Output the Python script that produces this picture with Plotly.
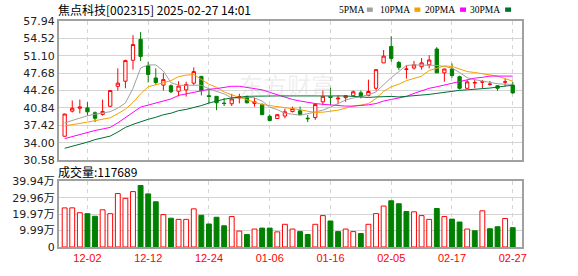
import plotly.graph_objects as go

# ---------------- data ----------------
dates = [
    "2024-11-27", "2024-11-28", "2024-11-29",
    "2024-12-02", "2024-12-03", "2024-12-04", "2024-12-05", "2024-12-06",
    "2024-12-09", "2024-12-10", "2024-12-11", "2024-12-12", "2024-12-13",
    "2024-12-16", "2024-12-17", "2024-12-18", "2024-12-19", "2024-12-20",
    "2024-12-23", "2024-12-24", "2024-12-25", "2024-12-26", "2024-12-27",
    "2024-12-30", "2024-12-31",
    "2025-01-02", "2025-01-03", "2025-01-06", "2025-01-07", "2025-01-08",
    "2025-01-09", "2025-01-10", "2025-01-13", "2025-01-14", "2025-01-15",
    "2025-01-16", "2025-01-17", "2025-01-20", "2025-01-21", "2025-01-22",
    "2025-01-23", "2025-01-24", "2025-01-27",
    "2025-02-05", "2025-02-06", "2025-02-07", "2025-02-10", "2025-02-11",
    "2025-02-12", "2025-02-13", "2025-02-14", "2025-02-17", "2025-02-18",
    "2025-02-19", "2025-02-20", "2025-02-21", "2025-02-24", "2025-02-25",
    "2025-02-26", "2025-02-27",
]

opens = [35.27, 40.21, 40.78, 40.84, 39.89, 39.57, 41.16, 45.08, 46.10, 50.21,
         54.33, 49.13, 46.73, 45.33, 45.21, 44.13, 44.39, 45.71, 47.05, 43.24,
         43.12, 41.79, 41.66, 42.80, 43.12, 41.73, 41.53, 39.19, 38.75, 39.25,
         40.14, 40.27, 38.81, 38.94, 42.04, 43.12, 42.62, 42.86, 43.24, 43.81,
         43.31, 44.70, 49.70, 52.93, 49.77, 48.40, 48.69, 48.94, 49.32, 52.43,
         47.74, 48.50, 46.98, 44.70, 45.75, 45.90, 45.45, 45.20, 45.90, 45.33]
highs = [39.70, 42.30, 42.49, 41.98, 40.14, 42.49, 44.30, 48.63, 50.34, 55.15,
         55.78, 49.89, 48.63, 47.68, 45.46, 46.10, 46.00, 48.82, 47.10, 44.39,
         43.15, 42.80, 43.62, 43.62, 43.24, 42.86, 41.73, 39.57, 39.60, 40.71,
         41.09, 41.09, 39.44, 41.73, 44.26, 44.83, 43.31, 43.30, 44.26, 44.26,
         46.41, 48.37, 52.24, 54.96, 50.08, 49.26, 50.08, 50.65, 51.22, 52.80,
         48.56, 49.60, 47.20, 46.35, 46.50, 46.35, 46.16, 45.30, 46.60, 45.97]
lows = [35.20, 39.95, 39.76, 39.32, 38.05, 39.32, 41.00, 44.26, 44.70, 48.37,
        50.08, 45.84, 45.40, 44.26, 43.75, 43.12, 43.06, 45.33, 43.31, 41.73,
        40.40, 41.22, 41.22, 41.73, 41.73, 41.09, 39.44, 38.18, 38.70, 38.81,
        39.95, 39.44, 38.05, 38.49, 41.34, 41.34, 41.53, 42.04, 43.12, 42.73,
        43.12, 44.26, 49.70, 49.95, 48.31, 46.60, 48.37, 48.37, 48.63, 47.74,
        46.00, 46.80, 44.45, 44.56, 44.70, 44.70, 45.20, 44.20, 45.10, 43.60]
closes = [39.64, 40.78, 41.03, 40.08, 38.81, 40.14, 44.26, 45.71, 50.15, 53.31,
          50.97, 47.43, 45.84, 46.41, 44.01, 45.14, 45.46, 47.99, 44.26, 43.10,
          41.85, 41.70, 42.61, 43.05, 41.85, 42.04, 39.51, 38.37, 39.51, 40.08,
          40.71, 39.51, 38.72, 41.53, 43.12, 42.90, 42.75, 43.24, 44.01, 43.12,
          44.07, 48.37, 51.03, 50.58, 48.82, 48.50, 49.32, 49.70, 50.27, 47.74,
          48.50, 47.22, 44.70, 45.97, 45.82, 45.97, 45.52, 44.70, 45.97, 43.80]

# volume in 万
volumes = [23.77, 23.80, 20.85, 20.26, 18.70, 22.60, 20.26, 32.50, 29.60, 33.70,
           37.40, 32.30, 27.50, 19.70, 17.50, 16.80, 16.80, 23.20, 19.30, 14.00,
           18.10, 12.90, 18.50, 9.70, 7.60, 10.90, 11.50, 11.50, 9.20, 13.80,
           10.90, 9.35, 7.60, 13.80, 19.10, 15.80, 9.35, 10.90, 9.35, 8.20,
           13.80, 20.30, 24.90, 28.10, 26.30, 21.60, 21.40, 19.10, 16.80, 23.40,
           18.50, 16.95, 15.20, 10.90, 9.90, 22.00, 11.10, 12.30, 17.30, 11.77]

ma5 = [37.9, 38.4, 38.9, 39.3, 39.6, 39.8, 40.1, 40.8, 41.8, 44.7,
       48.7, 49.3, 49.3, 48.1, 45.8, 45.3, 45.3, 45.4, 45.3, 44.6,
       44.1, 43.6, 42.8, 42.8, 43.0, 42.8, 42.2, 41.0, 40.5, 39.8,
       39.6, 39.4, 39.7, 40.0, 40.4, 41.0, 41.7, 42.4, 42.8, 43.1,
       43.4, 44.0, 45.5, 46.8, 48.0, 49.2, 49.3, 49.3, 49.3, 49.2,
       49.0, 48.7, 47.8, 46.8, 46.4, 46.1, 45.8, 45.6, 45.5, 45.5]
ma10 = [37.3, 37.6, 37.8, 38.05, 38.3, 38.6, 38.9, 39.7, 40.6, 41.9,
        43.6, 45.0, 45.4, 45.8, 46.2, 47.0, 47.3, 47.4, 46.5, 45.5,
        44.9, 44.0, 43.4, 42.9, 42.5, 42.0, 41.5, 41.3, 41.1, 41.0,
        40.8, 40.5, 40.2, 39.95, 40.0, 40.15, 40.4, 40.8, 41.2, 41.4,
        41.7, 42.7, 44.1, 45.0, 45.5, 46.2, 46.7, 47.1, 48.2, 48.7,
        49.1, 49.0, 48.5, 48.0, 47.8, 47.6, 47.4, 47.1, 46.6, 46.1]
ma20 = [34.8, 35.2, 35.7, 36.05, 36.4, 36.7, 37.0, 37.9, 38.9, 40.0,
        41.0, 41.4, 41.75, 42.2, 42.6, 43.3, 43.6, 43.85, 44.15, 44.5,
        44.65, 44.8, 45.1, 45.1, 44.9, 44.7, 44.4, 43.9, 43.4, 43.0,
        42.5, 42.2, 41.9, 41.7, 41.55, 41.4, 41.25, 41.2, 41.2, 41.3,
        41.45, 41.7, 42.2, 42.5, 42.8, 43.1, 43.7, 44.2, 44.7, 45.0,
        45.35, 45.7, 46.1, 46.5, 46.7, 46.85, 47.1, 47.1, 47.1, 47.1]
ma30 = [32.9, 33.3, 33.6, 34.1, 34.6, 34.9, 35.3, 36.1, 37.0, 37.6,
        38.15, 38.6, 39.0, 39.5, 39.8, 40.3, 40.55, 40.85, 41.3, 41.8,
        42.2, 42.55, 42.8, 43.0, 43.1, 43.15, 43.2, 43.2, 43.2, 43.2,
        43.2, 43.2, 43.25, 43.3, 43.3, 43.25, 43.2, 43.2, 43.1, 43.0,
        42.9, 43.0, 43.05, 43.1, 43.0, 43.1, 43.2, 43.4, 43.5, 43.7,
        43.9, 44.15, 44.3, 44.4, 44.5, 44.6, 44.75, 44.95, 45.1, 45.3]

price_ticks = [30.58, 34.00, 37.42, 40.84, 44.26, 47.68, 51.10, 54.52, 57.94]
vol_ticks = [0, 9.99, 19.97, 29.96, 39.94]
vol_tick_text = ["0", "9.99万", "19.97万", "29.96万", "39.94万"]
date_ticks = ["2024-12-02", "2024-12-12", "2024-12-24", "2025-01-06",
              "2025-01-16", "2025-02-05", "2025-02-17", "2025-02-27"]
date_tick_text = ["12-02", "12-12", "12-24", "01-06", "01-16", "02-05", "02-17", "02-27"]

title_text = "焦点科技[002315] 2025-02-27 14:01"
vol_title = "成交量:117689"
ma_names = ["5PMA", "10PMA", "20PMA", "30PMA"]

# ---------------- style ----------------
RED = "#ff0000"
GREEN = "#008000"
MA_COLORS = ["#a0a0a0", "#f5a000", "#ff00ff", "#006e33"]
GRID = "#d4d4d4"
BORDER = "#a0a0a0"

W, H = 578, 276
L, R, T, B = 55, 522, 21, 255


def px(x):
    return (x - L) / (R - L)


def py(y):
    return (B - y) / (B - T)


# volume colours: compare to previous close
vol_up = []
for i, c in enumerate(closes):
    ref = opens[0] if i == 0 else closes[i - 1]
    vol_up.append(c >= ref)
vol_fill = ["#ffffff" if u else GREEN for u in vol_up]
vol_line = [RED if u else GREEN for u in vol_up]

fig = go.Figure()

fig.add_trace(go.Candlestick(
    x=dates, open=opens, high=highs, low=lows, close=closes,
    increasing=dict(line=dict(color=RED, width=1), fillcolor="#ffffff"),
    decreasing=dict(line=dict(color=GREEN, width=1), fillcolor=GREEN),
    whiskerwidth=0, showlegend=False, hoverinfo="skip",
    xaxis="x", yaxis="y",
))

for vals, col in zip([ma5, ma10, ma20, ma30], MA_COLORS):
    fig.add_trace(go.Scatter(
        x=dates, y=vals, mode="lines", line=dict(color=col, width=1),
        showlegend=False, hoverinfo="skip", xaxis="x", yaxis="y",
    ))

fig.add_trace(go.Bar(
    x=dates, y=volumes,
    marker=dict(color=vol_fill, line=dict(color=vol_line, width=1)),
    showlegend=False, hoverinfo="skip", xaxis="x2", yaxis="y2",
))

xrange = [-0.744, 60.22]
common_x = dict(
    type="category", range=xrange, tickmode="array", tickvals=date_ticks,
    showgrid=True, gridcolor=GRID, griddash="4px,4px", gridwidth=1,
    showline=True, mirror=True, linecolor=BORDER, linewidth=2,
    ticks="", zeroline=False, fixedrange=True,
)

fig.update_layout(
    width=W, height=H,
    margin=dict(l=L, r=W - R, t=T, b=H - B, pad=0),
    paper_bgcolor="#ffffff", plot_bgcolor="#ffffff",
    showlegend=False, hovermode=False,
    boxgap=0.38, bargap=0.36,
    xaxis=dict(anchor="y", domain=[0, 1], showticklabels=False,
               rangeslider=dict(visible=False), **common_x),
    xaxis2=dict(anchor="y2", domain=[0, 1], matches="x", ticktext=date_tick_text,
                showticklabels=True,
                tickfont=dict(family="Liberation Sans", size=11, color=RED),
                **common_x),
    yaxis=dict(domain=[py(165), 1], range=[price_ticks[0], price_ticks[-1]],
               tickmode="array", tickvals=price_ticks,
               ticktext=["%.2f" % v for v in price_ticks],
               showgrid=True, gridcolor=GRID, gridwidth=1,
               showline=True, mirror=True, linecolor=BORDER, linewidth=2,
               ticks="", zeroline=False,
               tickfont=dict(family="DejaVu Sans", size=11, color="#222222")),
    yaxis2=dict(domain=[0, py(187)], range=[vol_ticks[0], vol_ticks[-1]],
                tickmode="array", tickvals=vol_ticks, ticktext=vol_tick_text,
                showgrid=True, gridcolor=GRID, gridwidth=1,
                showline=True, mirror=True, linecolor=BORDER, linewidth=2,
                ticks="", zeroline=False,
                tickfont=dict(family="DejaVu Sans, Noto Sans CJK SC", size=11,
                              color="#222222")),
)

annotations = [
    dict(text=title_text, x=px(52), y=py(9.5), xref="paper", yref="paper",
         xanchor="left", yanchor="middle", showarrow=False,
         font=dict(family="Noto Sans CJK SC", size=12, color="#000000")),
    dict(text=vol_title, x=px(52), y=py(177), xref="paper", yref="paper",
         xanchor="left", yanchor="middle", showarrow=False,
         font=dict(family="Noto Sans CJK SC", size=12, color="#000000")),
    dict(text="东方财富", x=px(285), y=py(87), xref="paper", yref="paper",
         xanchor="center", yanchor="middle", showarrow=False,
         font=dict(family="Noto Sans CJK SC", size=24, color="rgba(190,190,190,0.25)")),
]

legend_text_x = [335, 377, 422, 468]
legend_box_x = [365.5, 413.5, 459.5, 505]
for name, tx, bx, col in zip(ma_names, legend_text_x, legend_box_x, MA_COLORS):
    annotations.append(dict(
        text=name, x=px(tx), y=py(9.7), xref="paper", yref="paper",
        xanchor="left", yanchor="middle", showarrow=False,
        font=dict(family="Liberation Serif", size=9.5, color="#000000")))
    fig.add_shape(type="rect", xref="paper", yref="paper",
                  x0=px(bx), x1=px(bx + 6), y0=py(11.5), y1=py(7),
                  fillcolor=col, line=dict(width=0))

fig.update_layout(annotations=annotations)

fig.write_html("out.html")
